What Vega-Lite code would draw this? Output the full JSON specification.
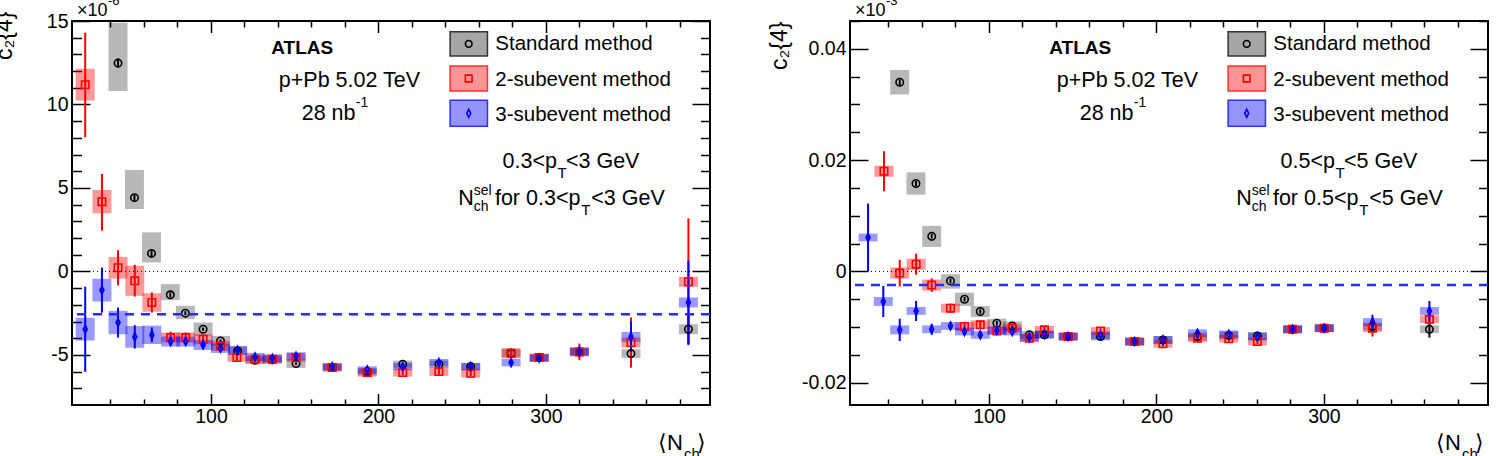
{
"$schema": "https://vega.github.io/schema/vega-lite/v6.json",
"background": "white",
"padding": {"left": -8, "top": -7, "right": 5, "bottom": 5},
"config": {
  "view": {"stroke": "black", "strokeWidth": 2},
  "axis": {"domain": false, "grid": false, "labelFont": "Liberation Sans", "labelFontSize": 19.5, "labelColor": "black", "tickColor": "black", "tickWidth": 1.5},
  "text": {"font": "Liberation Sans", "color": "black"}
},
"datasets": {
"L": [
{"m":"std","x":44.5,"y":12.48,"elo":12.2,"ehi":12.76,"slo":10.8,"shi":14.9},
{"m":"std","x":54.3,"y":4.42,"elo":4.2,"ehi":4.64,"slo":3.74,"shi":6.08},
{"m":"std","x":64.5,"y":1.08,"elo":0.9,"ehi":1.26,"slo":0.54,"shi":2.34},
{"m":"std","x":75.7,"y":-1.4,"elo":-1.55,"ehi":-1.25,"slo":-1.72,"shi":-0.76},
{"m":"std","x":84.7,"y":-2.5,"elo":-2.62,"ehi":-2.38,"slo":-2.86,"shi":-2.06},
{"m":"std","x":95.3,"y":-3.46,"elo":-3.56,"ehi":-3.36,"slo":-3.86,"shi":-3.06},
{"m":"std","x":105.7,"y":-4.16,"elo":-4.25,"ehi":-4.07,"slo":-4.46,"shi":-3.86},
{"m":"std","x":115.9,"y":-4.76,"elo":-4.84,"ehi":-4.68,"slo":-5.0,"shi":-4.5},
{"m":"std","x":126.3,"y":-5.32,"elo":-5.4,"ehi":-5.24,"slo":-5.55,"shi":-5.1},
{"m":"std","x":136.7,"y":-5.3,"elo":-5.38,"ehi":-5.22,"slo":-5.52,"shi":-5.08},
{"m":"std","x":150.8,"y":-5.52,"elo":-5.6,"ehi":-5.44,"slo":-5.78,"shi":-5.26},
{"m":"std","x":172.4,"y":-5.76,"elo":-5.84,"ehi":-5.68,"slo":-5.98,"shi":-5.54},
{"m":"std","x":193.3,"y":-6.0,"elo":-6.08,"ehi":-5.92,"slo":-6.22,"shi":-5.78},
{"m":"std","x":214.5,"y":-5.56,"elo":-5.64,"ehi":-5.48,"slo":-5.78,"shi":-5.34},
{"m":"std","x":236.1,"y":-5.56,"elo":-5.64,"ehi":-5.48,"slo":-5.78,"shi":-5.34},
{"m":"std","x":255.1,"y":-5.7,"elo":-5.8,"ehi":-5.6,"slo":-5.92,"shi":-5.48},
{"m":"std","x":279.2,"y":-4.9,"elo":-5.0,"ehi":-4.8,"slo":-5.14,"shi":-4.66},
{"m":"std","x":296,"y":-5.16,"elo":-5.26,"ehi":-5.06,"slo":-5.38,"shi":-4.94},
{"m":"std","x":320,"y":-4.82,"elo":-4.95,"ehi":-4.69,"slo":-5.06,"shi":-4.58},
{"m":"std","x":350.8,"y":-4.92,"elo":-5.1,"ehi":-4.74,"slo":-5.18,"shi":-4.66},
{"m":"std","x":385.1,"y":-3.46,"elo":-4.3,"ehi":-2.6,"slo":-3.76,"shi":-3.16},
{"m":"sub2","x":24.9,"y":11.18,"elo":8.04,"ehi":14.3,"slo":10.24,"shi":12.14},
{"m":"sub2","x":34.9,"y":4.18,"elo":2.44,"ehi":5.84,"slo":3.48,"shi":4.88},
{"m":"sub2","x":44.5,"y":0.22,"elo":-0.83,"ehi":1.27,"slo":-0.43,"shi":0.87},
{"m":"sub2","x":54.5,"y":-0.56,"elo":-1.51,"ehi":0.39,"slo":-1.46,"shi":0.34},
{"m":"sub2","x":64.7,"y":-1.86,"elo":-2.46,"ehi":-1.26,"slo":-2.41,"shi":-1.31},
{"m":"sub2","x":75.9,"y":-3.96,"elo":-4.31,"ehi":-3.61,"slo":-4.26,"shi":-3.66},
{"m":"sub2","x":84.9,"y":-3.96,"elo":-4.26,"ehi":-3.66,"slo":-4.26,"shi":-3.66},
{"m":"sub2","x":95.3,"y":-4.06,"elo":-4.36,"ehi":-3.76,"slo":-4.36,"shi":-3.76},
{"m":"sub2","x":105.7,"y":-4.46,"elo":-4.71,"ehi":-4.21,"slo":-4.76,"shi":-4.16},
{"m":"sub2","x":115.5,"y":-5.16,"elo":-5.36,"ehi":-4.96,"slo":-5.41,"shi":-4.91},
{"m":"sub2","x":126.3,"y":-5.26,"elo":-5.44,"ehi":-5.08,"slo":-5.5,"shi":-5.02},
{"m":"sub2","x":136.7,"y":-5.26,"elo":-5.44,"ehi":-5.08,"slo":-5.5,"shi":-5.02},
{"m":"sub2","x":150.8,"y":-5.16,"elo":-5.34,"ehi":-4.98,"slo":-5.42,"shi":-4.9},
{"m":"sub2","x":172.4,"y":-5.76,"elo":-5.92,"ehi":-5.6,"slo":-6.0,"shi":-5.52},
{"m":"sub2","x":193.3,"y":-6.06,"elo":-6.22,"ehi":-5.9,"slo":-6.3,"shi":-5.82},
{"m":"sub2","x":214.5,"y":-6.06,"elo":-6.22,"ehi":-5.9,"slo":-6.3,"shi":-5.82},
{"m":"sub2","x":236.1,"y":-6.0,"elo":-6.18,"ehi":-5.82,"slo":-6.26,"shi":-5.74},
{"m":"sub2","x":255.1,"y":-6.1,"elo":-6.28,"ehi":-5.92,"slo":-6.36,"shi":-5.84},
{"m":"sub2","x":279.2,"y":-4.9,"elo":-5.2,"ehi":-4.6,"slo":-5.2,"shi":-4.6},
{"m":"sub2","x":296,"y":-5.16,"elo":-5.4,"ehi":-4.92,"slo":-5.4,"shi":-4.92},
{"m":"sub2","x":320,"y":-4.82,"elo":-5.32,"ehi":-4.32,"slo":-5.08,"shi":-4.56},
{"m":"sub2","x":350.8,"y":-4.26,"elo":-5.76,"ehi":-2.76,"slo":-4.56,"shi":-3.96},
{"m":"sub2","x":385.1,"y":-0.62,"elo":-4.42,"ehi":3.18,"slo":-0.92,"shi":-0.32},
{"m":"sub3","x":24.9,"y":-3.46,"elo":-6.01,"ehi":-0.91,"slo":-4.14,"shi":-2.78},
{"m":"sub3","x":34.9,"y":-1.12,"elo":-2.47,"ehi":0.23,"slo":-1.8,"shi":-0.44},
{"m":"sub3","x":44.5,"y":-3.06,"elo":-3.96,"ehi":-2.16,"slo":-3.76,"shi":-2.36},
{"m":"sub3","x":54.5,"y":-3.92,"elo":-4.62,"ehi":-3.22,"slo":-4.57,"shi":-3.27},
{"m":"sub3","x":64.7,"y":-3.8,"elo":-4.25,"ehi":-3.35,"slo":-4.35,"shi":-3.25},
{"m":"sub3","x":75.9,"y":-4.2,"elo":-4.45,"ehi":-3.95,"slo":-4.5,"shi":-3.9},
{"m":"sub3","x":84.9,"y":-4.2,"elo":-4.4,"ehi":-4.0,"slo":-4.5,"shi":-3.9},
{"m":"sub3","x":95.3,"y":-4.4,"elo":-4.6,"ehi":-4.2,"slo":-4.7,"shi":-4.1},
{"m":"sub3","x":105.7,"y":-4.6,"elo":-4.78,"ehi":-4.42,"slo":-4.88,"shi":-4.32},
{"m":"sub3","x":115.9,"y":-4.72,"elo":-4.88,"ehi":-4.56,"slo":-4.98,"shi":-4.46},
{"m":"sub3","x":126.3,"y":-5.12,"elo":-5.28,"ehi":-4.96,"slo":-5.36,"shi":-4.88},
{"m":"sub3","x":136.7,"y":-5.2,"elo":-5.36,"ehi":-5.04,"slo":-5.44,"shi":-4.96},
{"m":"sub3","x":150.8,"y":-5.08,"elo":-5.24,"ehi":-4.92,"slo":-5.32,"shi":-4.84},
{"m":"sub3","x":172.4,"y":-5.7,"elo":-5.86,"ehi":-5.54,"slo":-5.92,"shi":-5.48},
{"m":"sub3","x":193.3,"y":-5.9,"elo":-6.06,"ehi":-5.74,"slo":-6.12,"shi":-5.68},
{"m":"sub3","x":214.5,"y":-5.7,"elo":-5.86,"ehi":-5.54,"slo":-5.92,"shi":-5.48},
{"m":"sub3","x":236.1,"y":-5.46,"elo":-5.64,"ehi":-5.28,"slo":-5.68,"shi":-5.24},
{"m":"sub3","x":255.1,"y":-5.7,"elo":-5.88,"ehi":-5.52,"slo":-5.92,"shi":-5.48},
{"m":"sub3","x":279.2,"y":-5.46,"elo":-5.66,"ehi":-5.26,"slo":-5.68,"shi":-5.24},
{"m":"sub3","x":296,"y":-5.2,"elo":-5.42,"ehi":-4.98,"slo":-5.42,"shi":-4.98},
{"m":"sub3","x":320,"y":-4.8,"elo":-5.1,"ehi":-4.5,"slo":-5.04,"shi":-4.56},
{"m":"sub3","x":350.8,"y":-3.92,"elo":-4.82,"ehi":-3.02,"slo":-4.22,"shi":-3.62},
{"m":"sub3","x":385.1,"y":-1.86,"elo":-4.36,"ehi":0.64,"slo":-2.16,"shi":-1.56}
],
"R": [
{"m":"std","x":46.7,"y":0.034,"elo":0.0335,"ehi":0.0345,"slo":0.0318,"shi":0.0362},
{"m":"std","x":56.4,"y":0.0158,"elo":0.0153,"ehi":0.0163,"slo":0.0138,"shi":0.0178},
{"m":"std","x":65.8,"y":0.0063,"elo":0.0059,"ehi":0.0067,"slo":0.0044,"shi":0.0082},
{"m":"std","x":77,"y":-0.0017,"elo":-0.0021,"ehi":-0.0013,"slo":-0.0031,"shi":-0.0005},
{"m":"std","x":85.4,"y":-0.005,"elo":-0.0054,"ehi":-0.0046,"slo":-0.0062,"shi":-0.0038},
{"m":"std","x":94.8,"y":-0.0072,"elo":-0.0076,"ehi":-0.0068,"slo":-0.0082,"shi":-0.0062},
{"m":"std","x":104.7,"y":-0.0093,"elo":-0.0097,"ehi":-0.0089,"slo":-0.0101,"shi":-0.0085},
{"m":"std","x":113.9,"y":-0.0098,"elo":-0.0102,"ehi":-0.0094,"slo":-0.0106,"shi":-0.009},
{"m":"std","x":124.1,"y":-0.0114,"elo":-0.0118,"ehi":-0.011,"slo":-0.0121,"shi":-0.0107},
{"m":"std","x":133.1,"y":-0.0114,"elo":-0.0118,"ehi":-0.011,"slo":-0.0121,"shi":-0.0107},
{"m":"std","x":147.3,"y":-0.0117,"elo":-0.0121,"ehi":-0.0113,"slo":-0.0124,"shi":-0.011},
{"m":"std","x":166.6,"y":-0.0117,"elo":-0.0121,"ehi":-0.0113,"slo":-0.0124,"shi":-0.011},
{"m":"std","x":187,"y":-0.0126,"elo":-0.013,"ehi":-0.0122,"slo":-0.0133,"shi":-0.0119},
{"m":"std","x":203.9,"y":-0.0123,"elo":-0.0127,"ehi":-0.0119,"slo":-0.013,"shi":-0.0116},
{"m":"std","x":224.5,"y":-0.0117,"elo":-0.0121,"ehi":-0.0113,"slo":-0.0124,"shi":-0.011},
{"m":"std","x":243.2,"y":-0.0115,"elo":-0.0119,"ehi":-0.0111,"slo":-0.0122,"shi":-0.0108},
{"m":"std","x":260.3,"y":-0.0116,"elo":-0.012,"ehi":-0.0112,"slo":-0.0123,"shi":-0.0109},
{"m":"std","x":281.3,"y":-0.0104,"elo":-0.0108,"ehi":-0.01,"slo":-0.0111,"shi":-0.0097},
{"m":"std","x":300.2,"y":-0.0102,"elo":-0.0106,"ehi":-0.0098,"slo":-0.0109,"shi":-0.0095},
{"m":"std","x":329,"y":-0.0099,"elo":-0.0105,"ehi":-0.0093,"slo":-0.0106,"shi":-0.0092},
{"m":"std","x":363,"y":-0.0104,"elo":-0.0119,"ehi":-0.0089,"slo":-0.0111,"shi":-0.0097},
{"m":"sub2","x":37.3,"y":0.018,"elo":0.0144,"ehi":0.0216,"slo":0.017,"shi":0.019},
{"m":"sub2","x":46.7,"y":-0.0003,"elo":-0.0027,"ehi":0.0021,"slo":-0.0013,"shi":0.0007},
{"m":"sub2","x":56.5,"y":0.0013,"elo":-0.0006,"ehi":0.0032,"slo":0.0003,"shi":0.0023},
{"m":"sub2","x":65.8,"y":-0.00245,"elo":-0.00365,"ehi":-0.00125,"slo":-0.00345,"shi":-0.00145},
{"m":"sub2","x":77,"y":-0.0066,"elo":-0.0074,"ehi":-0.0058,"slo":-0.0074,"shi":-0.0058},
{"m":"sub2","x":85.4,"y":-0.0099,"elo":-0.0106,"ehi":-0.0092,"slo":-0.0107,"shi":-0.0091},
{"m":"sub2","x":94.8,"y":-0.0096,"elo":-0.0103,"ehi":-0.0089,"slo":-0.0104,"shi":-0.0088},
{"m":"sub2","x":104.7,"y":-0.0107,"elo":-0.0113,"ehi":-0.0101,"slo":-0.0114,"shi":-0.01},
{"m":"sub2","x":113.9,"y":-0.0102,"elo":-0.0108,"ehi":-0.0096,"slo":-0.0109,"shi":-0.0095},
{"m":"sub2","x":124.1,"y":-0.012,"elo":-0.0126,"ehi":-0.0114,"slo":-0.0127,"shi":-0.0113},
{"m":"sub2","x":133.1,"y":-0.0105,"elo":-0.0111,"ehi":-0.0099,"slo":-0.0112,"shi":-0.0098},
{"m":"sub2","x":147.3,"y":-0.0117,"elo":-0.0122,"ehi":-0.0112,"slo":-0.0124,"shi":-0.011},
{"m":"sub2","x":166.6,"y":-0.0107,"elo":-0.0112,"ehi":-0.0102,"slo":-0.0114,"shi":-0.01},
{"m":"sub2","x":187,"y":-0.0126,"elo":-0.0131,"ehi":-0.0121,"slo":-0.0133,"shi":-0.0119},
{"m":"sub2","x":203.9,"y":-0.013,"elo":-0.0135,"ehi":-0.0125,"slo":-0.0137,"shi":-0.0123},
{"m":"sub2","x":224.5,"y":-0.012,"elo":-0.0125,"ehi":-0.0115,"slo":-0.0127,"shi":-0.0113},
{"m":"sub2","x":243.2,"y":-0.0121,"elo":-0.0126,"ehi":-0.0116,"slo":-0.0128,"shi":-0.0114},
{"m":"sub2","x":260.3,"y":-0.0126,"elo":-0.0131,"ehi":-0.0121,"slo":-0.0133,"shi":-0.0119},
{"m":"sub2","x":281.3,"y":-0.0104,"elo":-0.0109,"ehi":-0.0099,"slo":-0.0111,"shi":-0.0097},
{"m":"sub2","x":300.2,"y":-0.0102,"elo":-0.0107,"ehi":-0.0097,"slo":-0.0109,"shi":-0.0095},
{"m":"sub2","x":329,"y":-0.0102,"elo":-0.0117,"ehi":-0.0087,"slo":-0.0109,"shi":-0.0095},
{"m":"sub2","x":363,"y":-0.0086,"elo":-0.0099,"ehi":-0.0073,"slo":-0.0093,"shi":-0.0079},
{"m":"sub3","x":27.8,"y":0.0061,"elo":0.0,"ehi":0.0122,"slo":0.0054,"shi":0.0068},
{"m":"sub3","x":36.9,"y":-0.0054,"elo":-0.0082,"ehi":-0.0026,"slo":-0.0062,"shi":-0.0046},
{"m":"sub3","x":46.7,"y":-0.0105,"elo":-0.0125,"ehi":-0.0085,"slo":-0.0113,"shi":-0.0097},
{"m":"sub3","x":56.5,"y":-0.0071,"elo":-0.0089,"ehi":-0.0053,"slo":-0.0078,"shi":-0.0064},
{"m":"sub3","x":65.8,"y":-0.0104,"elo":-0.0114,"ehi":-0.0094,"slo":-0.0111,"shi":-0.0097},
{"m":"sub3","x":77,"y":-0.0098,"elo":-0.0105,"ehi":-0.0091,"slo":-0.0105,"shi":-0.0091},
{"m":"sub3","x":85.4,"y":-0.0108,"elo":-0.0114,"ehi":-0.0102,"slo":-0.0115,"shi":-0.0101},
{"m":"sub3","x":94.8,"y":-0.0114,"elo":-0.012,"ehi":-0.0108,"slo":-0.0121,"shi":-0.0107},
{"m":"sub3","x":104.7,"y":-0.0106,"elo":-0.0112,"ehi":-0.01,"slo":-0.0113,"shi":-0.0099},
{"m":"sub3","x":113.9,"y":-0.0108,"elo":-0.0114,"ehi":-0.0102,"slo":-0.0115,"shi":-0.0101},
{"m":"sub3","x":124.1,"y":-0.0119,"elo":-0.0125,"ehi":-0.0113,"slo":-0.0126,"shi":-0.0112},
{"m":"sub3","x":133.1,"y":-0.0113,"elo":-0.0118,"ehi":-0.0108,"slo":-0.012,"shi":-0.0106},
{"m":"sub3","x":147.3,"y":-0.0117,"elo":-0.0122,"ehi":-0.0112,"slo":-0.0124,"shi":-0.011},
{"m":"sub3","x":166.6,"y":-0.0115,"elo":-0.012,"ehi":-0.011,"slo":-0.0122,"shi":-0.0108},
{"m":"sub3","x":187,"y":-0.0126,"elo":-0.0131,"ehi":-0.0121,"slo":-0.0133,"shi":-0.0119},
{"m":"sub3","x":203.9,"y":-0.0123,"elo":-0.0128,"ehi":-0.0118,"slo":-0.013,"shi":-0.0116},
{"m":"sub3","x":224.5,"y":-0.0111,"elo":-0.0117,"ehi":-0.0105,"slo":-0.0118,"shi":-0.0104},
{"m":"sub3","x":243.2,"y":-0.0113,"elo":-0.0119,"ehi":-0.0107,"slo":-0.012,"shi":-0.0106},
{"m":"sub3","x":260.3,"y":-0.0117,"elo":-0.0123,"ehi":-0.0111,"slo":-0.0124,"shi":-0.011},
{"m":"sub3","x":281.3,"y":-0.0104,"elo":-0.0109,"ehi":-0.0099,"slo":-0.0111,"shi":-0.0097},
{"m":"sub3","x":300.2,"y":-0.0102,"elo":-0.0107,"ehi":-0.0097,"slo":-0.0109,"shi":-0.0095},
{"m":"sub3","x":329,"y":-0.0091,"elo":-0.0104,"ehi":-0.0078,"slo":-0.0098,"shi":-0.0084},
{"m":"sub3","x":363,"y":-0.0071,"elo":-0.0089,"ehi":-0.0053,"slo":-0.0078,"shi":-0.0064}
]
},
"spacing": 140,
"bounds": "flush",
"hconcat": [
{
"width": 638, "height": 384,
"data": {"name": "L"},
"resolve": {"axis": {"x": "independent", "y": "independent"}},
"layer": [
{"transform": [{"filter": "datum.m == 'std'"}],
 "mark": {"type": "bar", "width": 19, "clip": true, "fill": "#000000", "fillOpacity": 0.28},
 "encoding": {
  "x": {"field": "x", "type": "quantitative", "scale": {"domain": [20, 395], "nice": false, "zero": false}, "axis": {"orient": "bottom", "values": [100, 200, 300], "ticks": false, "labelPadding": 2, "title": null}},
  "y": {"field": "slo", "type": "quantitative", "scale": {"domain": [-8, 15], "nice": false, "zero": false}, "axis": {"orient": "left", "values": [-5, 0, 5, 10, 15], "ticks": false, "labelPadding": 4, "labelExpr": "datum.value < 0 ? '-' + format(-datum.value, 'd') : format(datum.value, 'd')", "title": "c₂{4}", "titleFont": "Liberation Sans", "titleFontSize": 23, "titleFontWeight": "normal", "titleColor": "black", "titleAngle": 270, "titleAlign": "right", "titleBaseline": "middle", "titleX": -68, "titleY": -10}},
  "y2": {"field": "shi"}}},
{"transform": [{"filter": "datum.m == 'sub2'"}],
 "mark": {"type": "bar", "width": 19, "clip": true, "fill": "#ff0000", "fillOpacity": 0.4},
 "encoding": {
  "x": {"field": "x", "type": "quantitative", "axis": {"orient": "bottom", "values": [100, 200, 300], "labels": false, "tickSize": -11.5, "title": null}},
  "y": {"field": "slo", "type": "quantitative", "axis": {"orient": "left", "values": [-5, 0, 5, 10, 15], "labels": false, "tickSize": -18, "title": null}},
  "y2": {"field": "shi"}}},
{"transform": [{"filter": "datum.m == 'sub3'"}],
 "mark": {"type": "bar", "width": 19, "clip": true, "fill": "#0000ff", "fillOpacity": 0.4},
 "encoding": {
  "x": {"field": "x", "type": "quantitative", "axis": {"orient": "bottom", "values": [40,60,80,120,140,160,180,220,240,260,280,320,340,360,380], "labels": false, "tickSize": -6, "title": null}},
  "y": {"field": "slo", "type": "quantitative", "axis": {"orient": "left", "values": [-7,-6,-4,-3,-2,-1,1,2,3,4,6,7,8,9,11,12,13,14], "labels": false, "tickSize": -9.5, "title": null}},
  "y2": {"field": "shi"}}},
{"transform": [{"filter": "datum.m == 'std'"}],
 "mark": {"type": "rule", "clip": true, "color": "black", "strokeWidth": 2},
 "encoding": {
  "x": {"field": "x", "type": "quantitative", "axis": {"orient": "top", "values": [100, 200, 300], "labels": false, "tickSize": -11.5, "title": null}},
  "y": {"field": "elo", "type": "quantitative", "axis": {"orient": "right", "values": [-5, 0, 5, 10, 15], "labels": false, "tickSize": -18, "title": null}},
  "y2": {"field": "ehi"}}},
{"transform": [{"filter": "datum.m == 'sub2'"}],
 "mark": {"type": "rule", "clip": true, "color": "#ff0000", "strokeWidth": 2},
 "encoding": {
  "x": {"field": "x", "type": "quantitative", "axis": {"orient": "top", "values": [40,60,80,120,140,160,180,220,240,260,280,320,340,360,380], "labels": false, "tickSize": -6, "title": null}},
  "y": {"field": "elo", "type": "quantitative", "axis": {"orient": "right", "values": [-7,-6,-4,-3,-2,-1,1,2,3,4,6,7,8,9,11,12,13,14], "labels": false, "tickSize": -9.5, "title": null}},
  "y2": {"field": "ehi"}}},
{"transform": [{"filter": "datum.m == 'sub3'"}],
 "mark": {"type": "rule", "clip": true, "color": "#0000ff", "strokeWidth": 2},
 "encoding": {
  "x": {"field": "x", "type": "quantitative", "axis": null},
  "y": {"field": "elo", "type": "quantitative", "axis": null},
  "y2": {"field": "ehi"}}},
{"transform": [{"filter": "datum.m == 'std'"}],
 "mark": {"type": "point", "clip": true, "shape": "circle", "filled": false, "color": "black", "strokeWidth": 1.6, "size": 55, "opacity": 1},
 "encoding": {"x": {"field": "x", "type": "quantitative", "axis": null}, "y": {"field": "y", "type": "quantitative", "axis": null}}},
{"transform": [{"filter": "datum.m == 'sub2'"}],
 "mark": {"type": "point", "clip": true, "shape": "square", "filled": false, "color": "#ff0000", "strokeWidth": 1.6, "size": 55, "opacity": 1},
 "encoding": {"x": {"field": "x", "type": "quantitative", "axis": null}, "y": {"field": "y", "type": "quantitative", "axis": null}}},
{"transform": [{"filter": "datum.m == 'sub3'"}],
 "mark": {"type": "point", "clip": true, "shape": "M0,-1L0.5,0L0,1L-0.5,0Z", "filled": false, "color": "#0000ff", "strokeWidth": 1.6, "size": 64, "opacity": 1},
 "encoding": {"x": {"field": "x", "type": "quantitative", "axis": null}, "y": {"field": "y", "type": "quantitative", "axis": null}}},
{"data": {"values": [{}]}, "mark": {"type": "rule", "color": "black", "strokeWidth": 1, "strokeDash": [1, 3]},
 "encoding": {"y": {"datum": 0, "type": "quantitative", "axis": null}}},
{"data": {"values": [{}]}, "mark": {"type": "rule", "color": "#2a2aff", "strokeWidth": 2.5, "strokeDash": [9, 7]},
 "encoding": {"y": {"datum": -2.56, "type": "quantitative", "axis": null}}},
{"data": {"values": [{}]}, "mark": {"type": "text", "text": "×10", "fontSize": 18, "align": "left", "baseline": "middle"},
 "encoding": {"x": {"datum": 20, "type": "quantitative", "axis": null}, "y": {"datum": 15.6, "type": "quantitative", "axis": null}}},
{"data": {"values": [{}]}, "mark": {"type": "text", "text": "-6", "fontSize": 13, "align": "left", "baseline": "middle", "dx": 31, "dy": -10},
 "encoding": {"x": {"datum": 20, "type": "quantitative", "axis": null}, "y": {"datum": 15.6, "type": "quantitative", "axis": null}}},
{"data": {"values": [{}]}, "mark": {"type": "text", "text": "ATLAS", "fontSize": 19, "fontWeight": "bold", "align": "left", "baseline": "middle"},
 "encoding": {"x": {"datum": 135.97, "type": "quantitative", "axis": null}, "y": {"datum": 13.383, "type": "quantitative", "axis": null}}},
{"data": {"values": [{}]}, "mark": {"type": "text", "text": "p+Pb 5.02 TeV", "fontSize": 21.5, "align": "left", "baseline": "middle"},
 "encoding": {"x": {"datum": 140.5, "type": "quantitative", "axis": null}, "y": {"datum": 11.406, "type": "quantitative", "axis": null}}},
{"data": {"values": [{}]}, "mark": {"type": "text", "text": "28 nb", "fontSize": 21.5, "align": "left", "baseline": "middle"},
 "encoding": {"x": {"datum": 154.19, "type": "quantitative", "axis": null}, "y": {"datum": 9.412, "type": "quantitative", "axis": null}}},
{"data": {"values": [{}]}, "mark": {"type": "text", "text": "-1", "fontSize": 14, "align": "left", "baseline": "middle", "dx": 54, "dy": -11},
 "encoding": {"x": {"datum": 154.19, "type": "quantitative", "axis": null}, "y": {"datum": 9.412, "type": "quantitative", "axis": null}}},
{"data": {"values": [{}]}, "mark": {"type": "text", "text": "0.3<p", "fontSize": 21.5, "align": "left", "baseline": "middle"},
 "encoding": {"x": {"datum": 274.1, "type": "quantitative", "axis": null}, "y": {"datum": 6.555, "type": "quantitative", "axis": null}}},
{"data": {"values": [{}]}, "mark": {"type": "text", "text": "T", "fontSize": 15, "align": "left", "baseline": "middle", "dx": 55, "dy": 11},
 "encoding": {"x": {"datum": 274.1, "type": "quantitative", "axis": null}, "y": {"datum": 6.555, "type": "quantitative", "axis": null}}},
{"data": {"values": [{}]}, "mark": {"type": "text", "text": "<3 GeV", "fontSize": 21.5, "align": "left", "baseline": "middle", "dx": 63.4},
 "encoding": {"x": {"datum": 274.1, "type": "quantitative", "axis": null}, "y": {"datum": 6.555, "type": "quantitative", "axis": null}}},
{"data": {"values": [{}]}, "mark": {"type": "text", "text": "N", "fontSize": 21.5, "align": "left", "baseline": "middle"},
 "encoding": {"x": {"datum": 247.65, "type": "quantitative", "axis": null}, "y": {"datum": 4.339, "type": "quantitative", "axis": null}}},
{"data": {"values": [{}]}, "mark": {"type": "text", "text": "sel", "fontSize": 14, "align": "left", "baseline": "middle", "dx": 15.5, "dy": -8},
 "encoding": {"x": {"datum": 247.65, "type": "quantitative", "axis": null}, "y": {"datum": 4.339, "type": "quantitative", "axis": null}}},
{"data": {"values": [{}]}, "mark": {"type": "text", "text": "ch", "fontSize": 14, "align": "left", "baseline": "middle", "dx": 15.5, "dy": 8},
 "encoding": {"x": {"datum": 247.65, "type": "quantitative", "axis": null}, "y": {"datum": 4.339, "type": "quantitative", "axis": null}}},
{"data": {"values": [{}]}, "mark": {"type": "text", "text": "for 0.3<p", "fontSize": 21.5, "align": "left", "baseline": "middle", "dx": 36.7},
 "encoding": {"x": {"datum": 247.65, "type": "quantitative", "axis": null}, "y": {"datum": 4.339, "type": "quantitative", "axis": null}}},
{"data": {"values": [{}]}, "mark": {"type": "text", "text": "T", "fontSize": 15, "align": "left", "baseline": "middle", "dx": 123, "dy": 11},
 "encoding": {"x": {"datum": 247.65, "type": "quantitative", "axis": null}, "y": {"datum": 4.339, "type": "quantitative", "axis": null}}},
{"data": {"values": [{}]}, "mark": {"type": "text", "text": "<3 GeV", "fontSize": 21.5, "align": "left", "baseline": "middle", "dx": 133},
 "encoding": {"x": {"datum": 247.65, "type": "quantitative", "axis": null}, "y": {"datum": 4.339, "type": "quantitative", "axis": null}}},
{"data": {"values": [{}]}, "mark": {"type": "rect", "fill": "#000000", "fillOpacity": 0.35, "stroke": "#333333", "strokeWidth": 1.5},
 "encoding": {"x": {"datum": 242.8, "type": "quantitative", "axis": null}, "x2": {"datum": 265.1}, "y": {"datum": 14.359, "type": "quantitative", "axis": null}, "y2": {"datum": 12.904}}},
{"data": {"values": [{}]}, "mark": {"type": "rect", "fill": "#ff0000", "fillOpacity": 0.42, "stroke": "#ff3030", "strokeWidth": 1.5},
 "encoding": {"x": {"datum": 242.8, "type": "quantitative", "axis": null}, "x2": {"datum": 265.1}, "y": {"datum": 12.305, "type": "quantitative", "axis": null}, "y2": {"datum": 10.807}}},
{"data": {"values": [{}]}, "mark": {"type": "rect", "fill": "#0000ff", "fillOpacity": 0.42, "stroke": "#3030ff", "strokeWidth": 1.5},
 "encoding": {"x": {"datum": 242.8, "type": "quantitative", "axis": null}, "x2": {"datum": 265.1}, "y": {"datum": 10.25, "type": "quantitative", "axis": null}, "y2": {"datum": 8.693}}},
{"data": {"values": [{}]}, "mark": {"type": "point", "shape": "circle", "filled": false, "color": "black", "strokeWidth": 1.6, "size": 45, "opacity": 1},
 "encoding": {"x": {"datum": 253.9, "type": "quantitative", "axis": null}, "y": {"datum": 13.63, "type": "quantitative", "axis": null}}},
{"data": {"values": [{}]}, "mark": {"type": "point", "shape": "square", "filled": false, "color": "#ff0000", "strokeWidth": 1.6, "size": 45, "opacity": 1},
 "encoding": {"x": {"datum": 253.9, "type": "quantitative", "axis": null}, "y": {"datum": 11.556, "type": "quantitative", "axis": null}}},
{"data": {"values": [{}]}, "mark": {"type": "point", "shape": "M0,-1L0.5,0L0,1L-0.5,0Z", "filled": false, "color": "#0000ff", "strokeWidth": 1.6, "size": 64, "opacity": 1},
 "encoding": {"x": {"datum": 253.9, "type": "quantitative", "axis": null}, "y": {"datum": 9.47, "type": "quantitative", "axis": null}}},
{"data": {"values": [{}]}, "mark": {"type": "text", "text": "Standard method", "fontSize": 20.5, "align": "left", "baseline": "middle"},
 "encoding": {"x": {"datum": 269.8, "type": "quantitative", "axis": null}, "y": {"datum": 13.64, "type": "quantitative", "axis": null}}},
{"data": {"values": [{}]}, "mark": {"type": "text", "text": "2-subevent method", "fontSize": 20.5, "align": "left", "baseline": "middle"},
 "encoding": {"x": {"datum": 269.8, "type": "quantitative", "axis": null}, "y": {"datum": 11.47, "type": "quantitative", "axis": null}}},
{"data": {"values": [{}]}, "mark": {"type": "text", "text": "3-subevent method", "fontSize": 20.5, "align": "left", "baseline": "middle"},
 "encoding": {"x": {"datum": 269.8, "type": "quantitative", "axis": null}, "y": {"datum": 9.37, "type": "quantitative", "axis": null}}},
{"data": {"values": [{}]}, "mark": {"type": "text", "text": "⟨N", "fontSize": 22, "align": "left", "baseline": "middle"},
 "encoding": {"x": {"datum": 367, "type": "quantitative", "axis": null}, "y": {"datum": -10.275, "type": "quantitative", "axis": null}}},
{"data": {"values": [{}]}, "mark": {"type": "text", "text": "ch", "fontSize": 15, "align": "left", "baseline": "middle", "dx": 26, "dy": 11},
 "encoding": {"x": {"datum": 367, "type": "quantitative", "axis": null}, "y": {"datum": -10.275, "type": "quantitative", "axis": null}}},
{"data": {"values": [{}]}, "mark": {"type": "text", "text": "⟩", "fontSize": 22, "align": "left", "baseline": "middle", "dx": 39},
 "encoding": {"x": {"datum": 367, "type": "quantitative", "axis": null}, "y": {"datum": -10.275, "type": "quantitative", "axis": null}}}
]
},
{
"width": 638, "height": 384,
"data": {"name": "R"},
"resolve": {"axis": {"x": "independent", "y": "independent"}},
"layer": [
{"transform": [{"filter": "datum.m == 'std'"}],
 "mark": {"type": "bar", "width": 19, "clip": true, "fill": "#000000", "fillOpacity": 0.28},
 "encoding": {
  "x": {"field": "x", "type": "quantitative", "scale": {"domain": [20, 395], "nice": false, "zero": false}, "axis": {"orient": "bottom", "values": [100, 200, 300], "ticks": false, "labelPadding": 2, "title": null}},
  "y": {"field": "slo", "type": "quantitative", "scale": {"domain": [-0.024, 0.045], "nice": false, "zero": false}, "axis": {"orient": "left", "values": [-0.02, 0, 0.02, 0.04], "ticks": false, "labelPadding": 4, "labelExpr": "datum.value == 0 ? '0' : (datum.value < 0 ? '-' : '') + format(abs(datum.value), '.2f')", "title": "c₂{4}", "titleFont": "Liberation Sans", "titleFontSize": 23, "titleFontWeight": "normal", "titleColor": "black", "titleAngle": 270, "titleAlign": "right", "titleBaseline": "middle", "titleX": -71, "titleY": 0}},
  "y2": {"field": "shi"}}},
{"transform": [{"filter": "datum.m == 'sub2'"}],
 "mark": {"type": "bar", "width": 19, "clip": true, "fill": "#ff0000", "fillOpacity": 0.4},
 "encoding": {
  "x": {"field": "x", "type": "quantitative", "axis": {"orient": "bottom", "values": [100, 200, 300], "labels": false, "tickSize": -11.5, "title": null}},
  "y": {"field": "slo", "type": "quantitative", "axis": {"orient": "left", "values": [-0.02, 0, 0.02, 0.04], "labels": false, "tickSize": -18, "title": null}},
  "y2": {"field": "shi"}}},
{"transform": [{"filter": "datum.m == 'sub3'"}],
 "mark": {"type": "bar", "width": 19, "clip": true, "fill": "#0000ff", "fillOpacity": 0.4},
 "encoding": {
  "x": {"field": "x", "type": "quantitative", "axis": {"orient": "bottom", "values": [40,60,80,120,140,160,180,220,240,260,280,320,340,360,380], "labels": false, "tickSize": -6, "title": null}},
  "y": {"field": "slo", "type": "quantitative", "axis": {"orient": "left", "values": [-0.015,-0.01,-0.005,0.005,0.01,0.015,0.025,0.03,0.035,0.045], "labels": false, "tickSize": -9.5, "title": null}},
  "y2": {"field": "shi"}}},
{"transform": [{"filter": "datum.m == 'std'"}],
 "mark": {"type": "rule", "clip": true, "color": "black", "strokeWidth": 2},
 "encoding": {
  "x": {"field": "x", "type": "quantitative", "axis": {"orient": "top", "values": [100, 200, 300], "labels": false, "tickSize": -11.5, "title": null}},
  "y": {"field": "elo", "type": "quantitative", "axis": {"orient": "right", "values": [-0.02, 0, 0.02, 0.04], "labels": false, "tickSize": -18, "title": null}},
  "y2": {"field": "ehi"}}},
{"transform": [{"filter": "datum.m == 'sub2'"}],
 "mark": {"type": "rule", "clip": true, "color": "#ff0000", "strokeWidth": 2},
 "encoding": {
  "x": {"field": "x", "type": "quantitative", "axis": {"orient": "top", "values": [40,60,80,120,140,160,180,220,240,260,280,320,340,360,380], "labels": false, "tickSize": -6, "title": null}},
  "y": {"field": "elo", "type": "quantitative", "axis": {"orient": "right", "values": [-0.015,-0.01,-0.005,0.005,0.01,0.015,0.025,0.03,0.035,0.045], "labels": false, "tickSize": -9.5, "title": null}},
  "y2": {"field": "ehi"}}},
{"transform": [{"filter": "datum.m == 'sub3'"}],
 "mark": {"type": "rule", "clip": true, "color": "#0000ff", "strokeWidth": 2},
 "encoding": {
  "x": {"field": "x", "type": "quantitative", "axis": null},
  "y": {"field": "elo", "type": "quantitative", "axis": null},
  "y2": {"field": "ehi"}}},
{"transform": [{"filter": "datum.m == 'std'"}],
 "mark": {"type": "point", "clip": true, "shape": "circle", "filled": false, "color": "black", "strokeWidth": 1.6, "size": 55, "opacity": 1},
 "encoding": {"x": {"field": "x", "type": "quantitative", "axis": null}, "y": {"field": "y", "type": "quantitative", "axis": null}}},
{"transform": [{"filter": "datum.m == 'sub2'"}],
 "mark": {"type": "point", "clip": true, "shape": "square", "filled": false, "color": "#ff0000", "strokeWidth": 1.6, "size": 55, "opacity": 1},
 "encoding": {"x": {"field": "x", "type": "quantitative", "axis": null}, "y": {"field": "y", "type": "quantitative", "axis": null}}},
{"transform": [{"filter": "datum.m == 'sub3'"}],
 "mark": {"type": "point", "clip": true, "shape": "M0,-1L0.5,0L0,1L-0.5,0Z", "filled": false, "color": "#0000ff", "strokeWidth": 1.6, "size": 64, "opacity": 1},
 "encoding": {"x": {"field": "x", "type": "quantitative", "axis": null}, "y": {"field": "y", "type": "quantitative", "axis": null}}},
{"data": {"values": [{}]}, "mark": {"type": "rule", "color": "black", "strokeWidth": 1, "strokeDash": [1, 3]},
 "encoding": {"y": {"datum": 0, "type": "quantitative", "axis": null}}},
{"data": {"values": [{}]}, "mark": {"type": "rule", "color": "#2a2aff", "strokeWidth": 2.5, "strokeDash": [9, 7]},
 "encoding": {"y": {"datum": -0.00245, "type": "quantitative", "axis": null}}},
{"data": {"values": [{}]}, "mark": {"type": "text", "text": "×10", "fontSize": 18, "align": "left", "baseline": "middle"},
 "encoding": {"x": {"datum": 20, "type": "quantitative", "axis": null}, "y": {"datum": 0.0468, "type": "quantitative", "axis": null}}},
{"data": {"values": [{}]}, "mark": {"type": "text", "text": "-3", "fontSize": 13, "align": "left", "baseline": "middle", "dx": 31, "dy": -10},
 "encoding": {"x": {"datum": 20, "type": "quantitative", "axis": null}, "y": {"datum": 0.0468, "type": "quantitative", "axis": null}}},
{"data": {"values": [{}]}, "mark": {"type": "text", "text": "ATLAS", "fontSize": 19, "fontWeight": "bold", "align": "left", "baseline": "middle"},
 "encoding": {"x": {"datum": 135.97, "type": "quantitative", "axis": null}, "y": {"datum": 0.040148, "type": "quantitative", "axis": null}}},
{"data": {"values": [{}]}, "mark": {"type": "text", "text": "p+Pb 5.02 TeV", "fontSize": 21.5, "align": "left", "baseline": "middle"},
 "encoding": {"x": {"datum": 140.5, "type": "quantitative", "axis": null}, "y": {"datum": 0.034218, "type": "quantitative", "axis": null}}},
{"data": {"values": [{}]}, "mark": {"type": "text", "text": "28 nb", "fontSize": 21.5, "align": "left", "baseline": "middle"},
 "encoding": {"x": {"datum": 154.19, "type": "quantitative", "axis": null}, "y": {"datum": 0.028234, "type": "quantitative", "axis": null}}},
{"data": {"values": [{}]}, "mark": {"type": "text", "text": "-1", "fontSize": 14, "align": "left", "baseline": "middle", "dx": 54, "dy": -11},
 "encoding": {"x": {"datum": 154.19, "type": "quantitative", "axis": null}, "y": {"datum": 0.028234, "type": "quantitative", "axis": null}}},
{"data": {"values": [{}]}, "mark": {"type": "text", "text": "0.5<p", "fontSize": 21.5, "align": "left", "baseline": "middle"},
 "encoding": {"x": {"datum": 274.1, "type": "quantitative", "axis": null}, "y": {"datum": 0.019662, "type": "quantitative", "axis": null}}},
{"data": {"values": [{}]}, "mark": {"type": "text", "text": "T", "fontSize": 15, "align": "left", "baseline": "middle", "dx": 55, "dy": 11},
 "encoding": {"x": {"datum": 274.1, "type": "quantitative", "axis": null}, "y": {"datum": 0.019662, "type": "quantitative", "axis": null}}},
{"data": {"values": [{}]}, "mark": {"type": "text", "text": "<5 GeV", "fontSize": 21.5, "align": "left", "baseline": "middle", "dx": 63.4},
 "encoding": {"x": {"datum": 274.1, "type": "quantitative", "axis": null}, "y": {"datum": 0.019662, "type": "quantitative", "axis": null}}},
{"data": {"values": [{}]}, "mark": {"type": "text", "text": "N", "fontSize": 21.5, "align": "left", "baseline": "middle"},
 "encoding": {"x": {"datum": 247.65, "type": "quantitative", "axis": null}, "y": {"datum": 0.013013, "type": "quantitative", "axis": null}}},
{"data": {"values": [{}]}, "mark": {"type": "text", "text": "sel", "fontSize": 14, "align": "left", "baseline": "middle", "dx": 15.5, "dy": -8},
 "encoding": {"x": {"datum": 247.65, "type": "quantitative", "axis": null}, "y": {"datum": 0.013013, "type": "quantitative", "axis": null}}},
{"data": {"values": [{}]}, "mark": {"type": "text", "text": "ch", "fontSize": 14, "align": "left", "baseline": "middle", "dx": 15.5, "dy": 8},
 "encoding": {"x": {"datum": 247.65, "type": "quantitative", "axis": null}, "y": {"datum": 0.013013, "type": "quantitative", "axis": null}}},
{"data": {"values": [{}]}, "mark": {"type": "text", "text": "for 0.5<p", "fontSize": 21.5, "align": "left", "baseline": "middle", "dx": 36.7},
 "encoding": {"x": {"datum": 247.65, "type": "quantitative", "axis": null}, "y": {"datum": 0.013013, "type": "quantitative", "axis": null}}},
{"data": {"values": [{}]}, "mark": {"type": "text", "text": "T", "fontSize": 15, "align": "left", "baseline": "middle", "dx": 123, "dy": 11},
 "encoding": {"x": {"datum": 247.65, "type": "quantitative", "axis": null}, "y": {"datum": 0.013013, "type": "quantitative", "axis": null}}},
{"data": {"values": [{}]}, "mark": {"type": "text", "text": "<5 GeV", "fontSize": 21.5, "align": "left", "baseline": "middle", "dx": 133},
 "encoding": {"x": {"datum": 247.65, "type": "quantitative", "axis": null}, "y": {"datum": 0.013013, "type": "quantitative", "axis": null}}},
{"data": {"values": [{}]}, "mark": {"type": "rect", "fill": "#000000", "fillOpacity": 0.35, "stroke": "#333333", "strokeWidth": 1.5},
 "encoding": {"x": {"datum": 242.8, "type": "quantitative", "axis": null}, "x2": {"datum": 265.1}, "y": {"datum": 0.043077, "type": "quantitative", "axis": null}, "y2": {"datum": 0.038711}}},
{"data": {"values": [{}]}, "mark": {"type": "rect", "fill": "#ff0000", "fillOpacity": 0.42, "stroke": "#ff3030", "strokeWidth": 1.5},
 "encoding": {"x": {"datum": 242.8, "type": "quantitative", "axis": null}, "x2": {"datum": 265.1}, "y": {"datum": 0.036914, "type": "quantitative", "axis": null}, "y2": {"datum": 0.032421}}},
{"data": {"values": [{}]}, "mark": {"type": "rect", "fill": "#0000ff", "fillOpacity": 0.42, "stroke": "#3030ff", "strokeWidth": 1.5},
 "encoding": {"x": {"datum": 242.8, "type": "quantitative", "axis": null}, "x2": {"datum": 265.1}, "y": {"datum": 0.03075, "type": "quantitative", "axis": null}, "y2": {"datum": 0.026078}}},
{"data": {"values": [{}]}, "mark": {"type": "point", "shape": "circle", "filled": false, "color": "black", "strokeWidth": 1.6, "size": 45, "opacity": 1},
 "encoding": {"x": {"datum": 253.9, "type": "quantitative", "axis": null}, "y": {"datum": 0.040894, "type": "quantitative", "axis": null}}},
{"data": {"values": [{}]}, "mark": {"type": "point", "shape": "square", "filled": false, "color": "#ff0000", "strokeWidth": 1.6, "size": 45, "opacity": 1},
 "encoding": {"x": {"datum": 253.9, "type": "quantitative", "axis": null}, "y": {"datum": 0.034668, "type": "quantitative", "axis": null}}},
{"data": {"values": [{}]}, "mark": {"type": "point", "shape": "M0,-1L0.5,0L0,1L-0.5,0Z", "filled": false, "color": "#0000ff", "strokeWidth": 1.6, "size": 64, "opacity": 1},
 "encoding": {"x": {"datum": 253.9, "type": "quantitative", "axis": null}, "y": {"datum": 0.028414, "type": "quantitative", "axis": null}}},
{"data": {"values": [{}]}, "mark": {"type": "text", "text": "Standard method", "fontSize": 20.5, "align": "left", "baseline": "middle"},
 "encoding": {"x": {"datum": 269.8, "type": "quantitative", "axis": null}, "y": {"datum": 0.04091, "type": "quantitative", "axis": null}}},
{"data": {"values": [{}]}, "mark": {"type": "text", "text": "2-subevent method", "fontSize": 20.5, "align": "left", "baseline": "middle"},
 "encoding": {"x": {"datum": 269.8, "type": "quantitative", "axis": null}, "y": {"datum": 0.03431, "type": "quantitative", "axis": null}}},
{"data": {"values": [{}]}, "mark": {"type": "text", "text": "3-subevent method", "fontSize": 20.5, "align": "left", "baseline": "middle"},
 "encoding": {"x": {"datum": 269.8, "type": "quantitative", "axis": null}, "y": {"datum": 0.02813, "type": "quantitative", "axis": null}}},
{"data": {"values": [{}]}, "mark": {"type": "text", "text": "⟨N", "fontSize": 22, "align": "left", "baseline": "middle"},
 "encoding": {"x": {"datum": 367, "type": "quantitative", "axis": null}, "y": {"datum": -0.03083, "type": "quantitative", "axis": null}}},
{"data": {"values": [{}]}, "mark": {"type": "text", "text": "ch", "fontSize": 15, "align": "left", "baseline": "middle", "dx": 26, "dy": 11},
 "encoding": {"x": {"datum": 367, "type": "quantitative", "axis": null}, "y": {"datum": -0.03083, "type": "quantitative", "axis": null}}},
{"data": {"values": [{}]}, "mark": {"type": "text", "text": "⟩", "fontSize": 22, "align": "left", "baseline": "middle", "dx": 39},
 "encoding": {"x": {"datum": 367, "type": "quantitative", "axis": null}, "y": {"datum": -0.03083, "type": "quantitative", "axis": null}}}
]
}
]
}
